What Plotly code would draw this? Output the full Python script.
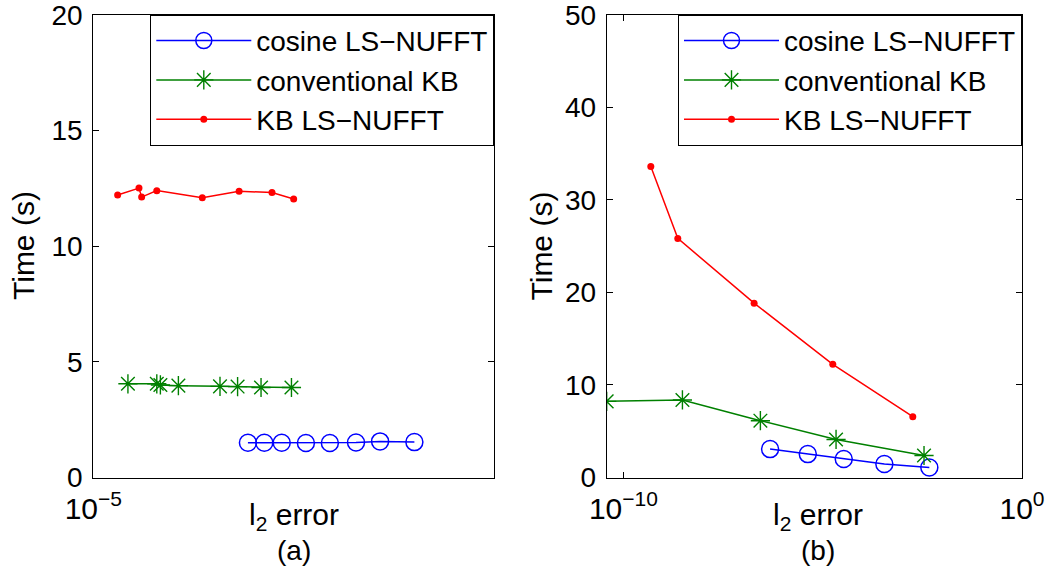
import plotly.graph_objects as go

# ---------------- data ----------------
series_names = ["cosine LS−NUFFT", "conventional KB", "KB LS−NUFFT"]

# panel (a)
a_cos_x = [2.43e-5, 2.67e-5, 2.95e-5, 3.39e-5, 3.89e-5, 4.52e-5, 5.19e-5, 6.32e-5]
a_cos_y = [1.50, 1.50, 1.50, 1.49, 1.49, 1.51, 1.56, 1.53]
a_kb_x = [1.22e-5, 1.44e-5, 1.47e-5, 1.63e-5, 2.07e-5, 2.29e-5, 2.62e-5, 3.12e-5]
a_kb_y = [4.05, 4.05, 4.00, 3.97, 3.94, 3.93, 3.89, 3.89]
a_kbls_x = [1.15e-5, 1.30e-5, 1.32e-5, 1.44e-5, 1.87e-5, 2.31e-5, 2.79e-5, 3.16e-5]
a_kbls_y = [12.21, 12.51, 12.12, 12.40, 12.09, 12.37, 12.32, 12.04]

# panel (b)
b_cos_x = [4.78e-7, 4.22e-6, 3.37e-5, 3.52e-4, 4.73e-3]
b_cos_y = [3.07, 2.53, 1.99, 1.45, 1.08]
b_kb_x = [3.8e-11, 3.02e-9, 2.73e-7, 2.16e-5, 3.48e-3]
b_kb_y = [8.23, 8.38, 6.14, 4.11, 2.38]
b_kbls_x = [4.86e-10, 2.31e-9, 1.90e-7, 1.79e-5, 1.82e-3]
b_kbls_y = [33.6, 25.84, 18.84, 12.23, 6.57]

a_xticks = [1e-5]
a_xticktext = ["10<sup>−5</sup>"]
b_xticks = [1e-10, 1]
b_xticktext = ["10<sup>−10</sup>", "10<sup>0</sup>"]
a_yticks = [0, 5, 10, 15, 20]
b_yticks = [0, 10, 20, 30, 40, 50]
panel_labels = ["(a)", "(b)"]

# ---------------- styling ----------------
W, H = 1050, 580
FONT = "Liberation Sans, Arial, Helvetica, sans-serif"
FS = 28
BLUE, GREEN, RED = "#0000ff", "#008000", "#ff0000"


def px(p):
    return p / W


def py(p):
    return 1 - p / H


top, bottom = 14.8, 477.5
left_dom = [px(93.3), px(494.3)]
right_dom = [px(606.7), px(1022.0)]

fig = go.Figure()


def add_series(xs, ys, name, color, kind, xa, ya, leg):
    if kind == "o":
        marker = dict(symbol="circle-open", size=17, color=color, line=dict(width=1.5, color=color))
    elif kind == "*":
        marker = dict(symbol="asterisk-open", size=16, color=color, line=dict(width=1.4, color=color))
    else:
        marker = dict(symbol="circle", size=7, color=color, line=dict(width=0))
    fig.add_trace(go.Scatter(x=xs, y=ys, name=name, mode="lines+markers",
                             line=dict(color=color, width=1.5), marker=marker,
                             xaxis=xa, yaxis=ya, legend=leg))


add_series(a_cos_x, a_cos_y, series_names[0], BLUE, "o", "x", "y", "legend")
add_series(a_kb_x, a_kb_y, series_names[1], GREEN, "*", "x", "y", "legend")
add_series(a_kbls_x, a_kbls_y, series_names[2], RED, ".", "x", "y", "legend")
add_series(b_cos_x, b_cos_y, series_names[0], BLUE, "o", "x2", "y2", "legend2")
add_series(b_kb_x, b_kb_y, series_names[1], GREEN, "*", "x2", "y2", "legend2")
add_series(b_kbls_x, b_kbls_y, series_names[2], RED, ".", "x2", "y2", "legend2")

axis_common = dict(showline=True, linecolor="black", linewidth=1, mirror="allticks",
                   ticks="inside", ticklen=6, tickcolor="black", showgrid=False,
                   zeroline=False, automargin=False, ticklabeloverflow="allow")
xtick_font = dict(family=FONT, size=30, color="black")
ytick_font = dict(family=FONT, size=FS, color="black")

legend_common = dict(bgcolor="white", bordercolor="black", borderwidth=1,
                     font=dict(family=FONT, size=FS, color="black"),
                     itemwidth=95, yanchor="top", xanchor="right", tracegroupgap=0,
                     itemclick=False)

fig.update_layout(
    template="none",
    width=W, height=H, margin=dict(l=0, r=0, t=0, b=0, autoexpand=False),
    paper_bgcolor="white", plot_bgcolor="white",
    font=dict(family=FONT, size=FS, color="black"),
    xaxis=dict(domain=left_dom, type="log", range=[-5, -4], tickvals=a_xticks,
               ticktext=a_xticktext, anchor="y", tickfont=xtick_font,
               ticklabelstandoff=4, **axis_common),
    yaxis=dict(domain=[py(bottom), py(top)], range=[0, 20], tickvals=a_yticks,
               anchor="x", ticklabelstandoff=4, tickfont=ytick_font, **axis_common),
    xaxis2=dict(domain=right_dom, type="log", range=[-10.42, 0], tickvals=b_xticks,
                ticktext=b_xticktext, anchor="y2", tickfont=xtick_font,
                ticklabelstandoff=4, **axis_common),
    yaxis2=dict(domain=[py(bottom), py(top)], range=[0, 50], tickvals=b_yticks,
                anchor="x2", ticklabelstandoff=4, tickfont=ytick_font, **axis_common),
    legend=dict(x=px(494.3), y=py(top), **legend_common),
    legend2=dict(x=px(1022.0), y=py(top), **legend_common),
    showlegend=True,
)

annos = []
for cx, ylab_x, lab in [((93.3 + 494.3) / 2, 23, panel_labels[0]),
                        ((606.7 + 1022.0) / 2 + 4, 540.5, panel_labels[1])]:
    annos.append(dict(x=px(cx), y=py(516), xref="paper", yref="paper",
                      text="l<sub>2</sub> error", showarrow=False,
                      font=dict(family=FONT, size=30), xanchor="center", yanchor="middle"))
    annos.append(dict(x=px(cx), y=py(550), xref="paper", yref="paper",
                      text=lab, showarrow=False,
                      font=dict(family=FONT, size=FS), xanchor="center", yanchor="middle"))
    annos.append(dict(x=px(ylab_x), y=py(246), xref="paper", yref="paper",
                      text="Time (s)", showarrow=False, textangle=-90,
                      font=dict(family=FONT, size=30), xanchor="center", yanchor="middle"))
fig.update_layout(annotations=annos)

fig.write_html("out.html",
               config={"displayModeBar": False, "staticPlot": True},
               post_script="document.body.style.margin='0';document.body.style.overflow='hidden';")
